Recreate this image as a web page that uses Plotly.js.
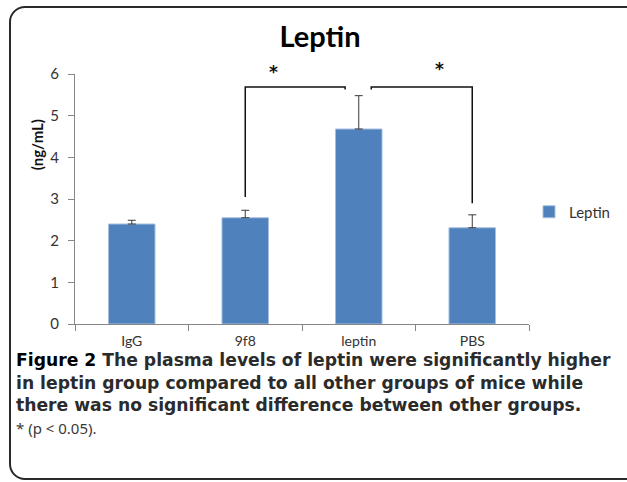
<!DOCTYPE html>
<html>
<head>
<meta charset="utf-8">
<script src="https://cdn.plot.ly/plotly-3.0.1.min.js"></script>
<style>
  html, body { margin: 0; padding: 0; background: #fff; }
  #frame { position: absolute; left: 9px; top: 6px; width: 660px; height: 470px;
           border: 2px solid #2a2a2a; border-radius: 16px; }
  #chart { position: absolute; left: 0; top: 0; width: 627px; height: 482px; }
</style>
</head>
<body>
<div id="frame"></div>
<div id="chart"></div>
<script>
// ---- data ----
const groups = ["IgG", "9f8", "leptin", "PBS"];
const leptinMean = [2.40, 2.55, 4.68, 2.31];
const leptinErr = [0.09, 0.18, 0.80, 0.31];
const seriesName = "Leptin";
const yTicks = [0, 1, 2, 3, 4, 5, 6];
// significance brackets: [from group index, to group index]
const sigPairs = [[1, 2], [2, 3]];
const sigLabel = "*";
const captionLines = [
  "<span style=\"color:#000\">Figure 2</span> The plasma levels of leptin were significantly higher",
  "in leptin group compared to all other groups of mice while",
  "there was no significant difference between other groups."
];
const footnote = "* (p &lt; 0.05).";

// ---- layout helpers (pixel -> paper) ----
const L = 75, R = 533, T = 74, B = 324;
const px = x => (x - L) / (R - L);
const py = y => (B - y) / (B - T);
const YMAX = 6;

const trace = {
  type: "bar",
  x: groups,
  y: leptinMean,
  name: seriesName,
  marker: { color: "#4F81BD", line: { color: "#A7BFDE", width: 1 } },
  error_y: {
    type: "data", symmetric: false, array: leptinErr,
    arrayminus: leptinErr.map(() => 0),
    color: "#3a3a3a", thickness: 1, width: 4
  },
  showlegend: true
};

const level = 5.69;
const shapes = [];
const annotations = [];
const starFont = { family: "DejaVu Sans, sans-serif", size: 17, color: "#111", weight: 700 };
{
  const a = sigPairs[0][0], b = sigPairs[0][1];
  const base = leptinMean[a] + leptinErr[a] + 0.32;
  shapes.push({ type: "path", xref: "x", yref: "y",
    path: `M${a},${base} L${a},${level} L${b - 0.12},${level} L${b - 0.12},${level - 0.06}`,
    line: { color: "#111", width: 1.5 } });
  annotations.push({ x: a + 0.25, y: 6.04 / YMAX, xref: "x", yref: "paper", text: sigLabel,
    xanchor: "center", yanchor: "middle", showarrow: false, font: starFont });
}
{
  const a = sigPairs[1][0], b = sigPairs[1][1];
  const base = leptinMean[b] + leptinErr[b] + 0.28;
  shapes.push({ type: "path", xref: "x", yref: "y",
    path: `M${a + 0.11},${level - 0.06} L${a + 0.11},${level} L${b},${level} L${b},${base}`,
    line: { color: "#111", width: 1.5 } });
  annotations.push({ x: a + 0.71, y: 6.13 / YMAX, xref: "x", yref: "paper", text: sigLabel,
    xanchor: "center", yanchor: "middle", showarrow: false, font: starFont });
}

// y axis title
annotations.push({ xref: "paper", yref: "paper", x: px(37), y: py(145), xanchor: "center", yanchor: "middle",
  text: "<b>(ng/mL)</b>", textangle: -90, showarrow: false,
  font: { family: "Lato, sans-serif", size: 15, color: "#111" } });

// caption
const capFont = { family: "DejaVu Sans", size: 17.2, color: "#2b2b2b", weight: 700 };
const capY = [360, 383, 405];
captionLines.forEach((t, i) => {
  annotations.push({ xref: "paper", yref: "paper", x: px(13), y: py(capY[i]), xanchor: "left", yanchor: "middle",
    text: t, showarrow: false, font: capFont });
});
annotations.push({ xref: "paper", yref: "paper", x: px(13), y: py(428), xanchor: "left", yanchor: "middle",
  text: footnote, showarrow: false,
  font: { family: "Noto Sans", size: 15, color: "#3a3a3a" } });

const layout = {
  width: 627, height: 482,
  margin: { l: L, r: 627 - R, t: T, b: 482 - B, pad: 0 },
  paper_bgcolor: "rgba(0,0,0,0)",
  plot_bgcolor: "rgba(0,0,0,0)",
  title: { text: "<b>Leptin</b>", x: 320 / 627, xanchor: "center", xref: "container",
    y: 1 - 37 / 482, yanchor: "middle", yref: "container",
    font: { family: "Lato, sans-serif", size: 29, color: "#000" } },
  bargap: 0.59,
  xaxis: {
    type: "category", range: [-0.5, 3.5], tickson: "boundaries",
    ticks: "outside", ticklen: 6, tickcolor: "#868686",
    showline: true, linecolor: "#868686", linewidth: 1,
    showgrid: false, zeroline: false, ticklabelstandoff: 4,
    tickfont: { family: "Lato, sans-serif", size: 14, color: "#333" }
  },
  yaxis: {
    range: [0, YMAX], tickvals: yTicks, ticks: "outside", ticklen: 6, tickcolor: "#868686",
    showline: true, linecolor: "#868686", linewidth: 1,
    showgrid: false, zeroline: false, ticklabelstandoff: 6,
    tickfont: { family: "Lato, sans-serif", size: 15, color: "#333" }
  },
  legend: { x: 1, y: py(212), xanchor: "left", yanchor: "middle", itemwidth: 30,
    font: { family: "Lato, sans-serif", size: 15, color: "#333" }, bgcolor: "rgba(0,0,0,0)" },
  shapes: shapes,
  annotations: annotations
};

Plotly.newPlot("chart", [trace], layout, { displayModeBar: false, staticPlot: true });
</script>
</body>
</html>
